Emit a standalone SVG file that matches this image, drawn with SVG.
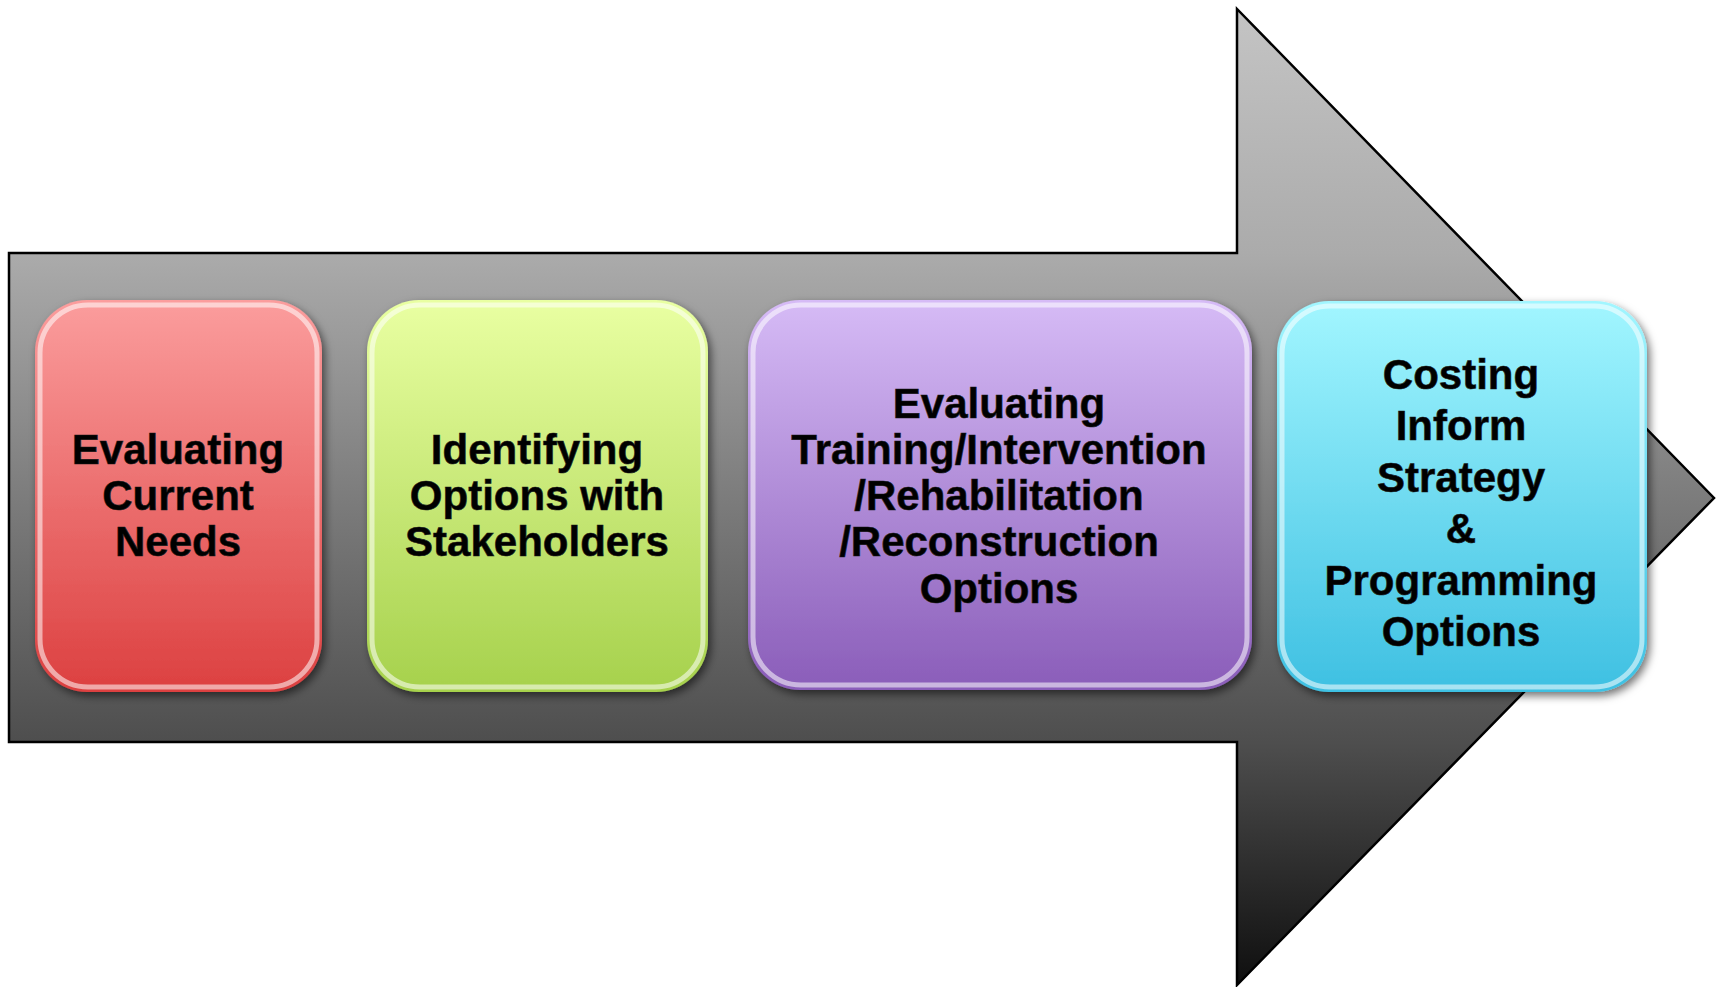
<svg xmlns="http://www.w3.org/2000/svg" width="1716" height="987" viewBox="0 0 1716 987">
<defs>
<linearGradient id="gArrow" gradientUnits="userSpaceOnUse" x1="0" y1="9" x2="0" y2="987">
<stop offset="0" stop-color="#c4c4c4"/>
<stop offset="0.25" stop-color="#ababab"/>
<stop offset="0.5" stop-color="#7c7c7c"/>
<stop offset="0.75" stop-color="#4e4e4e"/>
<stop offset="1" stop-color="#0e0e0e"/>
</linearGradient>
<linearGradient id="gRed" x1="0" y1="0" x2="0" y2="1">
<stop offset="0" stop-color="#fb9d9d"/>
<stop offset="1" stop-color="#dc4040"/>
</linearGradient>
<linearGradient id="gGreen" x1="0" y1="0" x2="0" y2="1">
<stop offset="0" stop-color="#e9ffa2"/>
<stop offset="1" stop-color="#a6d14c"/>
</linearGradient>
<linearGradient id="gPurple" x1="0" y1="0" x2="0" y2="1">
<stop offset="0" stop-color="#d6bbf6"/>
<stop offset="1" stop-color="#8a5db9"/>
</linearGradient>
<linearGradient id="gCyan" x1="0" y1="0" x2="0" y2="1">
<stop offset="0" stop-color="#a2f6ff"/>
<stop offset="1" stop-color="#3ec0e2"/>
</linearGradient>
<filter id="shadow" x="-10%" y="-10%" width="125%" height="125%">
<feDropShadow dx="3" dy="4" stdDeviation="4" flood-color="#000" flood-opacity="0.55"/>
</filter>
</defs>
<style>
.box{filter:url(#shadow);}
.rim{fill:none;stroke:#ffffff;stroke-opacity:0.55;stroke-width:5;}
.lbl{font-family:"Liberation Sans",Arial,sans-serif;font-weight:bold;font-size:42px;fill:#000;text-anchor:middle;stroke:#1a1a1a;stroke-width:0.6;}
</style>
<g id="arrow">
<path d="M9,253 L1237,253 L1237,9 L1714,498 L1237,985 L1237,742 L9,742 Z" fill="url(#gArrow)" stroke="#000" stroke-width="2.5" stroke-linejoin="miter"/>
</g>
<g id="connectors"></g>
<g id="node1">
<rect class="box" x="35" y="300" width="287" height="392" rx="52" fill="url(#gRed)"/>
<rect class="rim" x="40" y="305" width="277" height="382" rx="48"/>
<text class="lbl" x="178" y="464">Evaluating</text>
<text class="lbl" x="178" y="510">Current</text>
<text class="lbl" x="178" y="556">Needs</text>
</g>
<g id="node2">
<rect class="box" x="367" y="300" width="341" height="392" rx="52" fill="url(#gGreen)"/>
<rect class="rim" x="372" y="305" width="331" height="382" rx="48"/>
<text class="lbl" x="537" y="464">Identifying</text>
<text class="lbl" x="537" y="510">Options with</text>
<text class="lbl" x="537" y="556">Stakeholders</text>
</g>
<g id="node3">
<rect class="box" x="748" y="300" width="504" height="390" rx="52" fill="url(#gPurple)"/>
<rect class="rim" x="753" y="305" width="494" height="380" rx="48"/>
<text class="lbl" x="999" y="418">Evaluating</text>
<text class="lbl" x="999" y="464">Training/Intervention</text>
<text class="lbl" x="999" y="510">/Rehabilitation</text>
<text class="lbl" x="999" y="556">/Reconstruction</text>
<text class="lbl" x="999" y="603">Options</text>
</g>
<g id="node4">
<rect class="box" x="1277" y="301" width="370" height="391" rx="52" fill="url(#gCyan)"/>
<rect class="rim" x="1282" y="306" width="360" height="381" rx="48"/>
<text class="lbl" x="1461" y="389">Costing</text>
<text class="lbl" x="1461" y="440">Inform</text>
<text class="lbl" x="1461" y="492">Strategy</text>
<text class="lbl" x="1461" y="543">&amp;</text>
<text class="lbl" x="1461" y="595">Programming</text>
<text class="lbl" x="1461" y="646">Options</text>
</g>
</svg>
